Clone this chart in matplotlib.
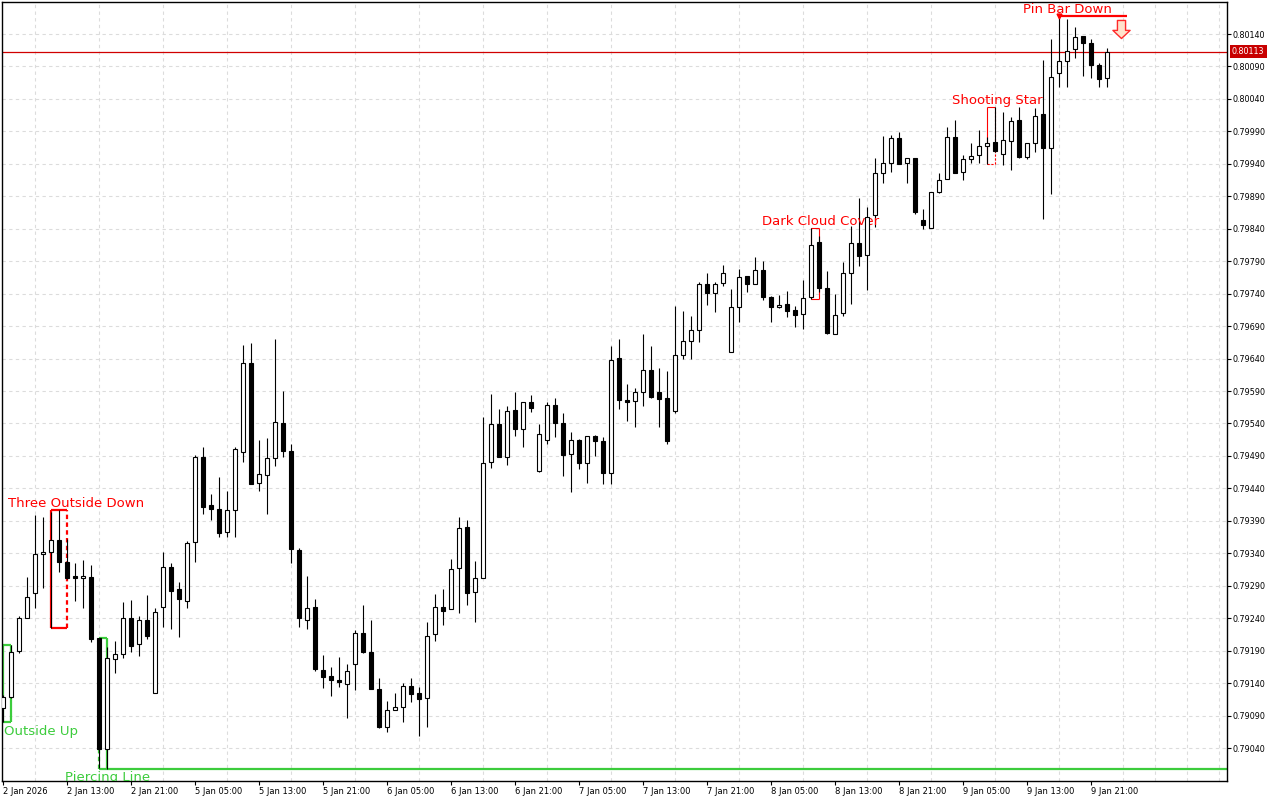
#
#
#   Hourly candlestick chart (2 Jan - 9 Jan 2026) with candle pattern marks
#       - MetaTrader like look : white / black candles, dashed grid,
#         prices on the right side and the current price line in red
#
# --------------------------------------------------------------------- #
# --------------------------------------------------------------------- #
# Import required modules
import matplotlib
matplotlib.use("Agg")
import matplotlib.pyplot as plt
from matplotlib.path import Path
from matplotlib.ticker import FormatStrFormatter
from matplotlib.transforms import blended_transform_factory
import numpy as np
#
# --------------------------------------------------------------------- #
# --------------------------------------------------------------------- #
# Data : one candle per hour, 2 Jan 05:00 ... 9 Jan 23:00 (weekend skipped)
openP = [0.79102, 0.79119, 0.79190, 0.79240, 0.79279, 0.79339, 0.79342, 0.79361, 0.79327, 0.79305,
         0.79302, 0.79304, 0.79210, 0.79039, 0.79177, 0.79185, 0.79240, 0.79200, 0.79237, 0.79125,
         0.79257, 0.79319, 0.79285, 0.79267, 0.79357, 0.79488, 0.79414, 0.79408, 0.79373, 0.79407,
         0.79496, 0.79633, 0.79448, 0.79461, 0.79487, 0.79541, 0.79498, 0.79345, 0.79237, 0.79257,
         0.79160, 0.79151, 0.79145, 0.79139, 0.79169, 0.79217, 0.79188, 0.79131, 0.79072, 0.79099,
         0.79103, 0.79136, 0.79125, 0.79117, 0.79216, 0.79257, 0.79254, 0.79317, 0.79381, 0.79280,
         0.79302, 0.79481, 0.79539, 0.79488, 0.79561, 0.79532, 0.79573, 0.79467, 0.79515, 0.79569,
         0.79541, 0.79493, 0.79515, 0.79479, 0.79521, 0.79513, 0.79464, 0.79641, 0.79576, 0.79575,
         0.79589, 0.79622, 0.79589, 0.79579, 0.79559, 0.79646, 0.79667, 0.79684, 0.79755, 0.79741,
         0.79756, 0.79650, 0.79719, 0.79767, 0.79755, 0.79776, 0.79735, 0.79719, 0.79724, 0.79715,
         0.79709, 0.79735, 0.79820, 0.79749, 0.79678, 0.79710, 0.79772, 0.79818, 0.79800, 0.79861,
         0.79926, 0.79941, 0.79980, 0.79941, 0.79949, 0.79854, 0.79841, 0.79897, 0.79917, 0.79981,
         0.79927, 0.79947, 0.79954, 0.79968, 0.79974, 0.79955, 0.79975, 0.80008, 0.79951, 0.79972,
         0.80017, 0.79964, 0.80080, 0.80098, 0.80117, 0.80137, 0.80126, 0.80092, 0.80072]
highP = [0.79122, 0.79199, 0.79243, 0.79304, 0.79399, 0.79396, 0.79404, 0.79407, 0.79362, 0.79325,
         0.79330, 0.79322, 0.79210, 0.79196, 0.79205, 0.79265, 0.79268, 0.79243, 0.79276, 0.79256,
         0.79342, 0.79325, 0.79296, 0.79359, 0.79491, 0.79504, 0.79431, 0.79458, 0.79436, 0.79504,
         0.79661, 0.79664, 0.79515, 0.79518, 0.79670, 0.79590, 0.79508, 0.79348, 0.79305, 0.79270,
         0.79183, 0.79165, 0.79180, 0.79169, 0.79222, 0.79260, 0.79237, 0.79148, 0.79112, 0.79125,
         0.79140, 0.79148, 0.79134, 0.79234, 0.79277, 0.79285, 0.79331, 0.79396, 0.79391, 0.79328,
         0.79550, 0.79585, 0.79562, 0.79567, 0.79589, 0.79573, 0.79584, 0.79539, 0.79573, 0.79579,
         0.79556, 0.79527, 0.79516, 0.79521, 0.79522, 0.79519, 0.79659, 0.79670, 0.79601, 0.79595,
         0.79678, 0.79659, 0.79626, 0.79621, 0.79721, 0.79713, 0.79706, 0.79758, 0.79772, 0.79758,
         0.79784, 0.79747, 0.79778, 0.79767, 0.79797, 0.79790, 0.79736, 0.79738, 0.79744, 0.79721,
         0.79761, 0.79841, 0.79829, 0.79775, 0.79740, 0.79789, 0.79844, 0.79887, 0.79874, 0.79949,
         0.79983, 0.79984, 0.79989, 0.79949, 0.79949, 0.79870, 0.79897, 0.79926, 0.79997, 0.80008,
         0.79954, 0.79972, 0.79992, 0.79981, 0.80028, 0.80020, 0.80012, 0.80028, 0.79972, 0.80026,
         0.80100, 0.80132, 0.80168, 0.80163, 0.80151, 0.80137, 0.80132, 0.80095, 0.80119]
lowP = [0.79080, 0.79117, 0.79186, 0.79240, 0.79256, 0.79287, 0.79225, 0.79311, 0.79300, 0.79267,
        0.79256, 0.79203, 0.79009, 0.79008, 0.79156, 0.79179, 0.79188, 0.79182, 0.79208, 0.79125,
        0.79226, 0.79223, 0.79211, 0.79256, 0.79327, 0.79401, 0.79391, 0.79365, 0.79365, 0.79365,
        0.79481, 0.79447, 0.79436, 0.79401, 0.79475, 0.79488, 0.79325, 0.79226, 0.79223, 0.79159,
        0.79133, 0.79120, 0.79134, 0.79086, 0.79129, 0.79186, 0.79131, 0.79071, 0.79065, 0.79099,
        0.79080, 0.79111, 0.79059, 0.79072, 0.79205, 0.79230, 0.79254, 0.79248, 0.79260, 0.79234,
        0.79302, 0.79471, 0.79488, 0.79476, 0.79521, 0.79504, 0.79558, 0.79465, 0.79508, 0.79519,
        0.79459, 0.79434, 0.79470, 0.79448, 0.79490, 0.79447, 0.79447, 0.79562, 0.79544, 0.79535,
        0.79567, 0.79579, 0.79535, 0.79508, 0.79556, 0.79639, 0.79639, 0.79666, 0.79723, 0.79712,
        0.79752, 0.79650, 0.79696, 0.79743, 0.79755, 0.79730, 0.79696, 0.79718, 0.79704, 0.79689,
        0.79686, 0.79732, 0.79743, 0.79678, 0.79678, 0.79706, 0.79724, 0.79783, 0.79746, 0.79843,
        0.79911, 0.79927, 0.79940, 0.79911, 0.79863, 0.79840, 0.79841, 0.79895, 0.79917, 0.79926,
        0.79915, 0.79941, 0.79941, 0.79940, 0.79958, 0.79938, 0.79931, 0.79949, 0.79947, 0.79958,
        0.79855, 0.79894, 0.80058, 0.80058, 0.80103, 0.80075, 0.80072, 0.80058, 0.80058]
closeP = [0.79119, 0.79188, 0.79240, 0.79273, 0.79339, 0.79342, 0.79361, 0.79327, 0.79302, 0.79302,
          0.79305, 0.79208, 0.79039, 0.79179, 0.79185, 0.79240, 0.79197, 0.79237, 0.79213, 0.79250,
          0.79319, 0.79282, 0.79270, 0.79356, 0.79488, 0.79411, 0.79408, 0.79371, 0.79407, 0.79501,
          0.79633, 0.79447, 0.79462, 0.79487, 0.79542, 0.79498, 0.79347, 0.79240, 0.79256, 0.79162,
          0.79149, 0.79145, 0.79142, 0.79159, 0.79217, 0.79188, 0.79131, 0.79072, 0.79099, 0.79103,
          0.79136, 0.79123, 0.79116, 0.79213, 0.79257, 0.79251, 0.79316, 0.79379, 0.79279, 0.79302,
          0.79479, 0.79539, 0.79488, 0.79559, 0.79532, 0.79573, 0.79564, 0.79524, 0.79569, 0.79541,
          0.79491, 0.79515, 0.79479, 0.79521, 0.79513, 0.79464, 0.79638, 0.79576, 0.79573, 0.79589,
          0.79622, 0.79581, 0.79578, 0.79513, 0.79646, 0.79667, 0.79684, 0.79755, 0.79741, 0.79755,
          0.79772, 0.79719, 0.79766, 0.79755, 0.79776, 0.79735, 0.79719, 0.79723, 0.79713, 0.79707,
          0.79733, 0.79815, 0.79749, 0.79679, 0.79707, 0.79772, 0.79818, 0.79798, 0.79858, 0.79926,
          0.79941, 0.79980, 0.79940, 0.79949, 0.79866, 0.79846, 0.79897, 0.79915, 0.79981, 0.79926,
          0.79947, 0.79952, 0.79968, 0.79972, 0.79960, 0.79977, 0.80006, 0.79951, 0.79972, 0.80014,
          0.79964, 0.80074, 0.80098, 0.80114, 0.80135, 0.80126, 0.80092, 0.80071, 0.80113]
lastPrice = 0.80113
#
# Time axis labels (one label every 8 candles)
xLabels = ["2 Jan 2026", "2 Jan 13:00", "2 Jan 21:00", "5 Jan 05:00", "5 Jan 13:00",
           "5 Jan 21:00", "6 Jan 05:00", "6 Jan 13:00", "6 Jan 21:00", "7 Jan 05:00",
           "7 Jan 13:00", "7 Jan 21:00", "8 Jan 05:00", "8 Jan 13:00", "8 Jan 21:00",
           "9 Jan 05:00", "9 Jan 13:00", "9 Jan 21:00"]
xLabelPos = [0, 8, 16, 24, 32, 40, 48, 56, 64, 72, 80, 88, 96, 104, 112, 120, 128, 136]
#
# Price axis ticks
yTicks = [0.79040, 0.79090, 0.79140, 0.79190, 0.79240, 0.79290, 0.79340, 0.79390,
          0.79440, 0.79490, 0.79540, 0.79590, 0.79640, 0.79690, 0.79740, 0.79790,
          0.79840, 0.79890, 0.79940, 0.79990, 0.80040, 0.80090, 0.80140]
#
# Candle patterns : first / last candle index of each pattern
patternNames = ["Outside Up", "Three Outside Down", "Piercing Line",
                "Dark Cloud Cover", "Shooting Star"]
patternFirst = [0, 6, 12, 101, 123]
patternLast = [1, 8, 13, 102, 124]
patternBull = [True, False, True, False, False]
patternTextX = [4.75, 9.1, 13.06, 102.2, 124.25]
pinBarName = "Pin Bar Down"
pinBarIndex = 132
pinBarTextX = 133.1
#
# --------------------------------------------------------------------- #
# --------------------------------------------------------------------- #
# Figure and axes
openP = np.array(openP)
highP = np.array(highP)
lowP = np.array(lowP)
closeP = np.array(closeP)
xIdx = np.arange(len(openP))
#
red = "#ff0000"
green = "#3ccc3c"
gridColor = "#dcdcdc"
#
fig = plt.figure(figsize=(12.8, 8), dpi=100)
ax = fig.add_axes([2 / 1280, 19 / 800, 1225 / 1280, 779 / 800])
ax.set_xlim(-0.125, 153.0)
ax.set_ylim(0.789892, 0.801893)
#
for s in ax.spines.values():
    s.set_color("black")
    s.set_linewidth(1.0)
#
# Ticks / grid
ax.set_yticks(yTicks)
ax.yaxis.set_major_formatter(FormatStrFormatter("%.5f"))
ax.yaxis.tick_right()
ax.tick_params(axis="y", which="both", direction="out", length=3, width=0.8,
               pad=1.2, labelsize=5.8, colors="black")
#
ax.set_xticks(xLabelPos)
ax.set_xticklabels(xLabels, ha="left")
ax.set_xticks(np.arange(0, 153, 4), minor=True)
ax.tick_params(axis="x", which="major", direction="out", length=3, width=0.8,
               pad=1.0, labelsize=6)
ax.tick_params(axis="x", which="minor", length=0)
#
ax.grid(True, axis="y", which="major", color=gridColor, linestyle=(0, (3, 3)), linewidth=0.8)
ax.grid(True, axis="x", which="minor", color=gridColor, linestyle=(0, (3, 3)), linewidth=0.8)
ax.set_axisbelow(True)
#
# --------------------------------------------------------------------- #
# --------------------------------------------------------------------- #
# Current price line + label on the price scale
ax.axhline(lastPrice, color="#d00000", linewidth=0.9, zorder=1.5)
trans = blended_transform_factory(ax.transAxes, ax.transData)
ax.text(1.0 + 5 / 1225, lastPrice, "%.5f" % lastPrice, transform=trans,
        ha="left", va="center", color="white", fontsize=5.8, clip_on=False,
        bbox=dict(boxstyle="square,pad=0.3", fc="#c80000", ec="none"))
#
# --------------------------------------------------------------------- #
# --------------------------------------------------------------------- #
# Candles : wicks first, bodies on top
upMask = closeP >= openP
ax.vlines(xIdx, lowP, highP, color="black", linewidth=0.8, zorder=3)
bodyH = np.abs(closeP - openP)
bodyB = np.minimum(openP, closeP)
ax.bar(xIdx, bodyH, bottom=bodyB, width=0.56,
       color=np.where(upMask, "white", "black"), edgecolor="black",
       linewidth=0.8, zorder=4)
#
# --------------------------------------------------------------------- #
# --------------------------------------------------------------------- #
# Pattern boxes and names
boxWidth = [1.6, 1.6, 1.6, 0.8, 0.8]
boxDashed = [[], ["right"], ["left"], [], ["right", "bottom"]]
#
for k, name in enumerate(patternNames):
    a, b = patternFirst[k], patternLast[k]
    top = highP[a:b + 1].max()
    bot = lowP[a:b + 1].min()
    col = green if patternBull[k] else red
    sides = {"left": ([a, a], [bot, top]), "right": ([b, b], [bot, top]),
             "top": ([a, b], [top, top]), "bottom": ([a, b], [bot, bot])}
    for side, (xs, ys) in sides.items():
        ls = (0, (2, 1.5)) if side in boxDashed[k] else "-"
        ax.plot(xs, ys, color=col, linewidth=boxWidth[k], linestyle=ls,
                zorder=2, solid_capstyle="butt")
    if patternBull[k]:
        ax.annotate(name, (patternTextX[k], bot), xytext=(0, -1.8),
                    textcoords="offset points", ha="center", va="top",
                    color=col, fontsize=9.5, annotation_clip=False, clip_on=True)
    else:
        ax.annotate(name, (patternTextX[k], top), xytext=(0, 2.2),
                    textcoords="offset points", ha="center", va="baseline",
                    color=col, fontsize=9.5, annotation_clip=False, clip_on=True)
#
# Piercing line low is carried to the right edge of the chart
pIdx = patternNames.index("Piercing Line")
pLow = lowP[patternFirst[pIdx]:patternLast[pIdx] + 1].min()
ax.plot([patternLast[pIdx], 153.0], [pLow, pLow], color=green, linewidth=1.6,
        zorder=2, solid_capstyle="butt")
#
# Pin bar : line at the high, small marker and a hollow down arrow
pinHigh = highP[pinBarIndex]
ax.plot([pinBarIndex, 140.5], [pinHigh, pinHigh], color=red, linewidth=1.6,
        zorder=2, solid_capstyle="butt")
ax.plot([pinBarIndex], [pinHigh], marker="v", markersize=3.5, color=red, zorder=5)
ax.annotate(pinBarName, (pinBarTextX, pinHigh), xytext=(0, 2.2),
            textcoords="offset points", ha="center", va="baseline",
            color=red, fontsize=9.5, annotation_clip=False, clip_on=True)
#
arrowVerts = [(-0.45, 1.0), (0.45, 1.0), (0.45, -0.1), (0.95, -0.1), (0.0, -1.0),
              (-0.95, -0.1), (-0.45, -0.1), (-0.45, 1.0)]
arrowPath = Path(arrowVerts, [Path.MOVETO] + [Path.LINETO] * 6 + [Path.CLOSEPOLY])
ax.plot([139.8], [pinHigh - 0.0002], marker=arrowPath, markersize=13,
        markerfacecolor="#ffe2cc", markeredgecolor="#ff2a2a", markeredgewidth=1.0,
        zorder=5)
#
plt.savefig("out.png", dpi=100)
